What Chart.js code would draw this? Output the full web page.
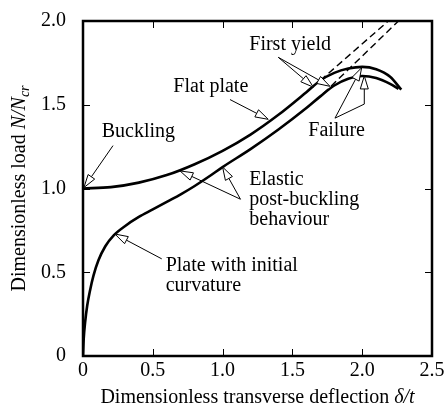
<!DOCTYPE html>
<html>
<head>
<meta charset="utf-8">
<script src="https://cdn.jsdelivr.net/npm/chart.js@4.4.0/dist/chart.umd.min.js"></script>
<style>
  html, body { margin: 0; padding: 0; background: #fff; }
</style>
</head>
<body>
<canvas id="chart" width="447" height="412"></canvas>
<script>
// flat plate (upper curve)
const flatPlateX = [0, 0.2, 0.4, 0.6, 0.8, 1.0, 1.2, 1.4, 1.6, 1.7, 1.8, 1.9, 2.0, 2.1, 2.2, 2.28];
const flatPlateY = [1.0, 1.008, 1.035, 1.08, 1.145, 1.225, 1.322, 1.44, 1.575, 1.645, 1.69, 1.716, 1.726, 1.712, 1.667, 1.59];
// plate with initial curvature (lower curve)
const curvedPlateX = [0, 0.005, 0.015, 0.03, 0.05, 0.075, 0.11, 0.16, 0.22, 0.3, 0.4, 0.5, 0.6, 0.7, 0.8, 0.9, 1.0, 1.2, 1.4, 1.6, 1.7, 1.8, 1.9, 2.0, 2.1, 2.2, 2.26];
const curvedPlateY = [0, 0.1, 0.2, 0.3, 0.39, 0.48, 0.57, 0.655, 0.72, 0.775, 0.83, 0.875, 0.92, 0.965, 1.015, 1.07, 1.128, 1.235, 1.352, 1.48, 1.55, 1.615, 1.655, 1.672, 1.66, 1.625, 1.595];
// elastic continuations (dashed)
const flatElasticX = [1.70, 2.187];
const flatElasticY = [1.645, 2.0];
const curvedElasticX = [1.72, 2.26];
const curvedElasticY = [1.565, 2.0];

const xTicks = [0, 0.5, 1.0, 1.5, 2.0, 2.5];
const yTicks = [0, 0.5, 1.0, 1.5, 2.0];

// labels and arrows, in data units: text anchor, then arrow polylines ending at the tip
const notes = [
  { lines: ['Buckling'], at: [0.134, 1.337], arrows: [[[0.215, 1.256], [0.007, 1.006]]] },
  { lines: ['Flat plate'], at: [0.647, 1.605], arrows: [[[1.053, 1.531], [1.327, 1.413]]] },
  { lines: ['First yield'], at: [1.191, 1.856], arrows: [[[1.399, 1.783], [1.65, 1.605]], [[1.399, 1.783], [1.769, 1.61]]] },
  { lines: ['Failure'], at: [1.614, 1.343], arrows: [[[1.805, 1.42], [1.996, 1.721]], [[1.805, 1.42], [2.015, 1.504], [2.015, 1.672]]] },
  { lines: ['Elastic', 'post-buckling', 'behaviour'], at: [1.191, 1.052], arrows: [[[1.128, 0.936], [0.695, 1.105]], [[1.128, 0.936], [1.0, 1.128]]] },
  { lines: ['Plate with initial', 'curvature'], at: [0.592, 0.539], arrows: [[[0.564, 0.58], [0.229, 0.728]]] }
];

const serif = '"Liberation Serif", "Times New Roman", serif';
const pts = (xs, ys) => xs.map((x, i) => ({ x: x, y: ys[i] }));
const fmt = v => v === 0 ? '0' : v.toFixed(1);

function drawRich(ctx, parts, cx, cy) {
  let total = 0;
  parts.forEach(p => { ctx.font = p.font; p.w = ctx.measureText(p.text).width; total += p.w; });
  let xx = cx - total / 2;
  parts.forEach(p => { ctx.font = p.font; ctx.fillText(p.text, xx, cy + (p.dy || 0)); xx += p.w; });
}

const overlay = {
  id: 'overlay',
  afterDatasetsDraw(chart) {
    const { ctx, chartArea: a, scales: { x, y } } = chart;
    const px = v => x.getPixelForValue(v), py = v => y.getPixelForValue(v);
    ctx.save();
    ctx.strokeStyle = '#000';
    ctx.fillStyle = '#000';

    // inward ticks on all four sides
    ctx.lineWidth = 1;
    ctx.beginPath();
    xTicks.slice(1, -1).forEach(v => {
      const p = Math.round(px(v)) + 0.5;
      ctx.moveTo(p, a.bottom); ctx.lineTo(p, a.bottom - 7);
      ctx.moveTo(p, a.top); ctx.lineTo(p, a.top + 7);
    });
    yTicks.slice(1, -1).forEach(v => {
      const p = Math.round(py(v)) + 0.5;
      ctx.moveTo(a.left, p); ctx.lineTo(a.left + 7, p);
      ctx.moveTo(a.right, p); ctx.lineTo(a.right - 7, p);
    });
    ctx.stroke();

    // frame
    ctx.lineWidth = 2.5;
    ctx.strokeRect(a.left, a.top, a.right - a.left, a.bottom - a.top);

    // annotations
    ctx.font = '20px ' + serif;
    ctx.textAlign = 'left';
    ctx.textBaseline = 'middle';
    notes.forEach(n => {
      n.lines.forEach((t, i) => ctx.fillText(t, px(n.at[0]), py(n.at[1]) + i * 20));
      n.arrows.forEach(path => {
        const p = path.map(q => [px(q[0]), py(q[1])]);
        const tip = p[p.length - 1], prev = p[p.length - 2];
        const dx = tip[0] - prev[0], dy = tip[1] - prev[1];
        const len = Math.hypot(dx, dy), ux = dx / len, uy = dy / len;
        const hl = 13, hw = 4;
        const bx = tip[0] - ux * hl, by = tip[1] - uy * hl;
        ctx.lineWidth = 1;
        ctx.beginPath();
        ctx.moveTo(p[0][0], p[0][1]);
        for (let i = 1; i < p.length - 1; i++) ctx.lineTo(p[i][0], p[i][1]);
        ctx.lineTo(bx, by);
        ctx.stroke();
        ctx.beginPath();
        ctx.moveTo(tip[0], tip[1]);
        ctx.lineTo(bx - uy * hw, by + ux * hw);
        ctx.lineTo(bx + uy * hw, by - ux * hw);
        ctx.closePath();
        ctx.fillStyle = '#fff';
        ctx.fill();
        ctx.stroke();
        ctx.fillStyle = '#000';
      });
    });

    // axis titles
    const normal = '20px ' + serif, italic = 'italic 20px ' + serif;
    drawRich(ctx, [
      { text: 'Dimensionless transverse deflection ', font: normal },
      { text: 'δ/t', font: italic }
    ], (a.left + a.right) / 2, 398);
    ctx.translate(20, (a.top + a.bottom) / 2);
    ctx.rotate(-Math.PI / 2);
    drawRich(ctx, [
      { text: 'Dimensionless load ', font: normal },
      { text: 'N/N', font: italic },
      { text: 'cr', font: 'italic 14px ' + serif, dy: 5 }
    ], 0, 0);
    ctx.restore();
  }
};

const solid = { borderColor: '#000', borderWidth: 2.6, pointRadius: 0, fill: false, cubicInterpolationMode: 'monotone' };
const dashed = { borderColor: '#000', borderWidth: 1.4, pointRadius: 0, fill: false, borderDash: [7, 4] };

new Chart(document.getElementById('chart'), {
  type: 'line',
  data: {
    datasets: [
      Object.assign({ label: 'Flat plate', data: pts(flatPlateX, flatPlateY) }, solid),
      Object.assign({ label: 'Plate with initial curvature', data: pts(curvedPlateX, curvedPlateY) }, solid),
      Object.assign({ label: 'Flat plate, elastic', data: pts(flatElasticX, flatElasticY) }, dashed),
      Object.assign({ label: 'Curved plate, elastic', data: pts(curvedElasticX, curvedElasticY) }, dashed)
    ]
  },
  options: {
    responsive: false,
    animation: false,
    devicePixelRatio: 1,
    layout: { padding: { top: 12, right: 15, left: 0, bottom: 0 } },
    plugins: { legend: { display: false }, tooltip: { enabled: false } },
    scales: {
      x: {
        type: 'linear', min: 0, max: 2.5,
        grid: { display: false }, border: { display: false },
        afterBuildTicks: s => { s.ticks = xTicks.map(v => ({ value: v })); },
        afterFit: s => { s.height = 56; },
        ticks: { callback: fmt, color: '#000', padding: -5, maxRotation: 0, font: { family: serif, size: 20 } }
      },
      y: {
        type: 'linear', min: 0, max: 2.0,
        grid: { display: false }, border: { display: false },
        afterBuildTicks: s => { s.ticks = yTicks.map(v => ({ value: v })); },
        afterFit: s => { s.width = 83; },
        ticks: { callback: fmt, color: '#000', padding: 9, font: { family: serif, size: 20 } }
      }
    }
  },
  plugins: [overlay]
});
</script>
</body>
</html>
